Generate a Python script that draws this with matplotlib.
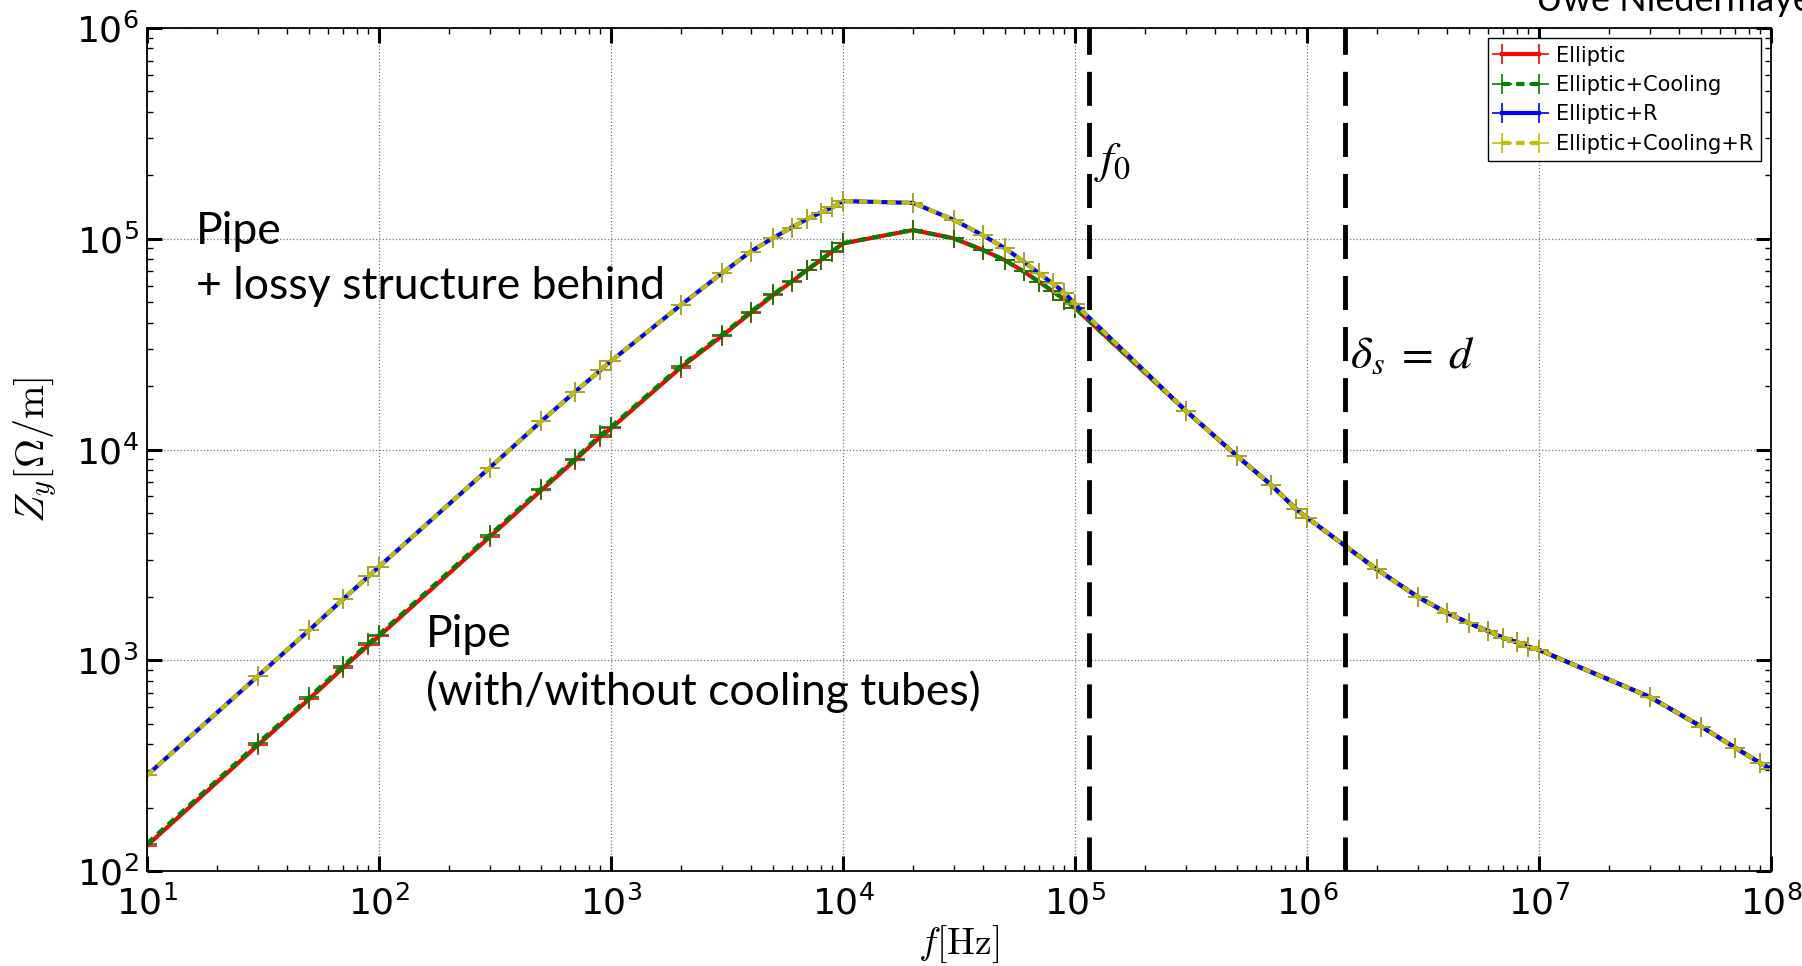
import matplotlib
matplotlib.use("Agg")
import matplotlib.pyplot as plt
from matplotlib.ticker import LogLocator, NullFormatter

# frequency points [Hz]
freq = [10, 30, 50, 70, 90, 100, 300, 500, 700, 900,
        1e3, 2e3, 3e3, 4e3, 5e3, 6e3, 7e3, 8e3, 9e3,
        1e4, 2e4, 3e4, 4e4, 5e4, 6e4, 7e4, 8e4, 9e4,
        1e5, 3e5, 5e5, 7e5, 9e5,
        1e6, 2e6, 3e6, 4e6, 5e6, 6e6, 7e6, 8e6, 9e6,
        1e7, 3e7, 5e7, 7e7, 9e7, 1e8]

# impedance up to 1e5 Hz, per model
head_elliptic = [132, 395, 655, 920, 1180, 1300, 3850, 6400, 8900, 11500,
                 12600, 24500, 34500, 44500, 54000, 62500, 71000, 79000, 87000,
                 95000, 110000, 100500, 88500, 79000, 70000, 62500, 56500, 51500,
                 47000]
head_cooling = [135, 403, 668, 938, 1203, 1325, 3925, 6520, 9060, 11700,
                12820, 24900, 35000, 45000, 54500, 62900, 71400, 79400, 87300,
                95300, 110000, 100500, 88500, 79000, 70000, 62500, 56500, 51500,
                47000]
head_r = [285, 840, 1390, 1950, 2500, 2780, 8200, 13600, 18800, 23800,
          26300, 48500, 68500, 87000, 101000, 113000, 124000, 133000, 141000,
          151000, 148000, 123000, 104000, 90000, 78000, 68500, 61500, 55500,
          49000]
head_cooling_r = [285, 840, 1390, 1950, 2500, 2780, 8200, 13600, 18800, 23800,
                  26300, 48500, 68500, 87000, 101000, 113000, 124000, 133000, 141000,
                  151000, 148000, 123000, 104000, 90000, 78000, 68500, 61500, 55500,
                  49000]
# above 1e5 Hz all models coincide
tail = [15300, 9300, 6800, 5200,
        4750, 2700, 2000, 1680, 1500, 1380, 1280, 1220, 1160,
        1120, 670, 485, 385, 325, 305]

labels = ['Elliptic', 'Elliptic+Cooling', 'Elliptic+R', 'Elliptic+Cooling+R']
colors = ['r', 'g', 'b', 'y']
styles = ['-', (0, (2, 1.4)), '-', (0, (2, 1.4))]

f0 = 1.15e5
f_skin = 1.46e6

fig = plt.figure(figsize=(18.02, 9.66), dpi=100)
ax = fig.add_axes([0.0816, 0.0983, 0.9012, 0.8727])

series = [head_elliptic + tail, head_cooling + tail, head_r + tail, head_cooling_r + tail]
for z, lab, c, ls in zip(series, labels, colors, styles):
    ax.plot(freq, z, color=c, ls=ls, lw=3, marker='+', ms=15, mew=1.2, label=lab)

ax.axvline(f0, color='k', lw=3.5, ls=(0, (7, 3.5)))
ax.axvline(f_skin, color='k', lw=3.5, ls=(0, (7, 3.5)))

ax.set_xscale('log')
ax.set_yscale('log')
ax.set_xlim(1e1, 1e8)
ax.set_ylim(1e2, 1e6)
ax.xaxis.set_minor_locator(LogLocator(base=10, subs=range(2, 10), numticks=20))
ax.yaxis.set_minor_locator(LogLocator(base=10, subs=range(2, 10), numticks=20))
ax.xaxis.set_minor_formatter(NullFormatter())
ax.yaxis.set_minor_formatter(NullFormatter())
ax.tick_params(which='both', direction='in', top=True, right=True, labelsize=26)
ax.tick_params(which='major', length=11, width=2.2)
ax.tick_params(which='minor', length=4, width=1)
ax.tick_params(axis='x', pad=10)
ax.tick_params(axis='y', pad=6)
for s in ax.spines.values():
    s.set_linewidth(1.3)
ax.grid(True, which='major', color='0.45', ls=':', lw=0.9)

ax.set_xlabel(r'$f[\mathrm{Hz}]$', fontsize=27, math_fontfamily='cm', labelpad=2)
ax.set_ylabel(r'$Z_y[\Omega/\mathrm{m}]$', fontsize=29, math_fontfamily='cm', labelpad=11)

ax.text(0.583, 0.842, r'$f_0$', transform=ax.transAxes, fontsize=33,
        math_fontfamily='stix', va='center', ha='left')
ax.text(0.741, 0.611, r'$\delta_s\;=\;d$', transform=ax.transAxes, fontsize=33,
        math_fontfamily='stix', va='center', ha='left')

ax.text(0.030, 0.726, 'Pipe\n+ lossy structure behind', transform=ax.transAxes,
        fontsize=32, family='Lato', va='center', ha='left', linespacing=1.45)
ax.text(0.172, 0.246, 'Pipe\n(with/without cooling tubes)', transform=ax.transAxes,
        fontsize=32, family='Lato', va='center', ha='left', linespacing=1.45)

leg = ax.legend(loc='upper right', fontsize=15, numpoints=2, handlelength=2.4,
                fancybox=False, framealpha=1, edgecolor='k', borderaxespad=0.5,
                labelspacing=0.45, borderpad=0.35, handletextpad=0.5)
leg.get_frame().set_linewidth(1.0)

fig.text(0.8524, 0.9886, 'Uwe Niedermayer', fontsize=26, family='Lato',
         va='baseline', ha='left')

fig.savefig('out.png', dpi=100, facecolor='white')
